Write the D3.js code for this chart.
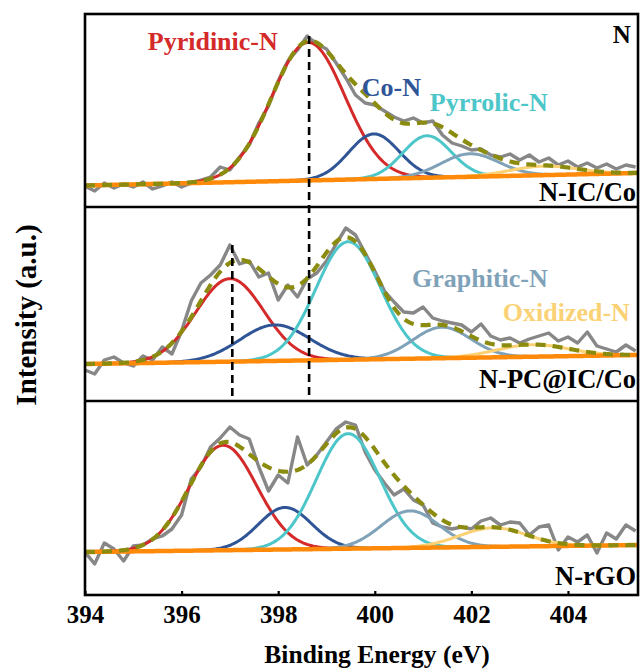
<!DOCTYPE html>
<html><head><meta charset="utf-8">
<script src="https://cdn.jsdelivr.net/npm/d3@7"></script>
<style>
html,body{margin:0;padding:0;background:#fff;}
svg{display:block;font-family:"Times New Roman","Liberation Serif",serif;font-weight:bold;}
</style>
</head><body>
<svg id="chart" width="641" height="671"></svg>
<script>
// ---------------- DATA ----------------
const energies = [394.0,394.2,394.4,394.6,394.8,395.0,395.2,395.4,395.6,395.8,
  396.0,396.2,396.4,396.6,396.8,397.0,397.2,397.4,397.6,397.8,
  398.0,398.2,398.4,398.6,398.8,399.0,399.2,399.4,399.6,399.8,
  400.0,400.2,400.4,400.6,400.8,401.0,401.2,401.4,401.6,401.8,
  402.0,402.2,402.4,402.6,402.8,403.0,403.2,403.4,403.6,403.8,
  404.0,404.2,404.4,404.6,404.8,405.0,405.2,405.4];

const rawNIC = [21,16,24,19,23,20,25,18,21,25,
  20,24,27,30,40,37,50,62,84,101,
  126,146,157,171,163,158,144,129,112,104,
  102,96,90,86,89,84,86,72,64,61,
  57,58,52,50,53,47,52,45,49,42,
  46,40,44,39,43,38,42,40];

const rawNPC = [31,27,41,44,38,35,45,41,54,47,
  70,100,118,126,136,156,137,140,124,128,
  101,116,104,122,128,140,157,173,166,148,
  130,110,99,89,88,94,83,80,78,76,
  69,77,65,61,63,58,62,65,68,60,
  64,58,69,55,52,49,56,50];

const rawNrGO = [43,31,52,46,34,49,50,56,59,66,
  80,116,128,148,157,168,160,156,128,104,
  120,112,158,130,140,153,166,173,170,143,
  125,112,100,106,95,90,72,68,66,68,
  66,74,77,70,73,72,60,68,70,45,
  58,53,60,42,62,56,70,64];

const sampleNames = ["N-IC/Co", "N-PC@IC/Co", "N-rGO"];
const componentNames = ["Pyridinic-N", "Co-N", "Pyrrolic-N", "Graphitic-N", "Oxidized-N"];

// fitted peak parameters per sample (center eV, height a.u., sigma eV)
const peakCenters = [
  [398.62, 399.98, 401.08, 401.97, 403.5],
  [397.00, 397.93, 399.45, 401.39, 403.27],
  [396.86, 398.14, 399.45, 400.73, 402.45]];
const peakHeights = [
  [138, 45, 42, 23, 9],
  [83, 36, 118, 31, 12],
  [105, 42, 115, 37, 19]];
const peakSigmas = [
  [0.76, 0.52, 0.50, 0.60, 0.70],
  [0.70, 0.72, 0.67, 0.60, 0.75],
  [0.70, 0.55, 0.66, 0.60, 0.70]];

// linear background (value at 394 eV and at 405.45 eV)
const backgroundStart = [21.5, 37, 43];
const backgroundEnd = [34, 46, 50];

const xTicks = [394, 396, 398, 400, 402, 404];
const markerEnergies = [398.64, 397.05];
const markerPanels = [0, 1];

// ---------------- STYLE / LAYOUT ----------------
const componentColors = ["#d42a2a", "#2f5597", "#4cc6c9", "#7fa2b9", "#fad275"];
const rawColor = "#878787", envColor = "#8b8b10", bgColor = "#ff8a0a";
const left = 85, right = 638;
const panelBottoms = [207, 401, 595];
const panelTop0 = 14;
const panelSpan = 194;
const xDomain = [394, 405.45];

const svg = d3.select("#chart");
svg.append("rect").attr("width", 641).attr("height", 671).attr("fill", "#fff");

const x = d3.scaleLinear().domain(xDomain).range([left, right]);
const yScales = panelBottoms.map(b => d3.scaleLinear().domain([0, panelSpan]).range([b, b - panelSpan]));
const raws = [rawNIC, rawNPC, rawNrGO];

const defs = svg.append("defs");
panelBottoms.forEach((b, i) => {
  const top = i === 0 ? panelTop0 : panelBottoms[i - 1];
  defs.append("clipPath").attr("id", "clip" + i)
    .append("rect").attr("x", left).attr("y", top).attr("width", right - left).attr("height", b - top);
});

const fine = d3.range(xDomain[0], xDomain[1] + 0.0001, 0.025);

panelBottoms.forEach((b, i) => {
  const y = yScales[i];
  const g = svg.append("g").attr("clip-path", `url(#clip${i})`);
  const bg = e => backgroundStart[i] + (backgroundEnd[i] - backgroundStart[i]) * (e - xDomain[0]) / (xDomain[1] - xDomain[0]);
  const gauss = (k, e) => peakHeights[i][k] * Math.exp(-((e - peakCenters[i][k]) ** 2) / (2 * peakSigmas[i][k] ** 2));
  const line = d3.line().x(d => x(d[0])).y(d => y(d[1])).curve(d3.curveLinear);

  // raw data
  g.append("path").datum(energies.map((e, j) => [e, raws[i][j]]))
    .attr("d", line).attr("fill", "none").attr("stroke", rawColor)
    .attr("stroke-width", 3.4).attr("stroke-linejoin", "round");

  // components
  componentNames.forEach((name, k) => {
    g.append("path").datum(fine.map(e => [e, bg(e) + gauss(k, e)]))
      .attr("d", line).attr("fill", "none").attr("stroke", componentColors[k])
      .attr("stroke-width", 3);
  });

  // background
  g.append("path").datum(fine.map(e => [e, bg(e)]))
    .attr("d", line).attr("fill", "none").attr("stroke", bgColor).attr("stroke-width", 4.5);

  // envelope
  g.append("path").datum(fine.map(e => [e, bg(e) + d3.sum(componentNames, (n, k) => gauss(k, e))]))
    .attr("d", line).attr("fill", "none").attr("stroke", envColor)
    .attr("stroke-width", 4.2).attr("stroke-dasharray", "10,7");
});

// marker dashed lines
markerEnergies.forEach((e, m) => {
  const p = markerPanels[m];
  const j = d3.minIndex(energies, v => Math.abs(v - e));
  svg.append("line")
    .attr("x1", x(e)).attr("x2", x(e))
    .attr("y1", yScales[p](raws[p][j])).attr("y2", yScales[1](0))
    .attr("stroke", "#000").attr("stroke-width", 2.6).attr("stroke-dasharray", "8,5");
});

// frame & dividers
svg.append("rect").attr("x", left).attr("y", panelTop0).attr("width", right - left)
  .attr("height", panelBottoms[2] - panelTop0).attr("fill", "none").attr("stroke", "#000").attr("stroke-width", 2.6);
[panelBottoms[0], panelBottoms[1]].forEach(v => {
  svg.append("line").attr("x1", left).attr("x2", right).attr("y1", v).attr("y2", v)
    .attr("stroke", "#000").attr("stroke-width", 2.6);
});

// x axis
const axis = d3.axisBottom(x).tickValues(xTicks).tickFormat(d3.format("d"))
  .tickSizeInner(-4).tickSizeOuter(0).tickPadding(10);
const ax = svg.append("g").attr("transform", `translate(0,${panelBottoms[2]})`).call(axis);
ax.select(".domain").remove();
ax.selectAll(".tick line").attr("stroke", "#000").attr("stroke-width", 2.2);
ax.selectAll(".tick text").attr("fill", "#000").attr("font-size", 25)
  .attr("font-family", '"Times New Roman","Liberation Serif",serif').attr("font-weight", "bold");

// axis titles
svg.append("text").attr("x", 377).attr("y", 663).attr("text-anchor", "middle")
  .attr("font-size", 25.5).attr("fill", "#000").text("Binding Energy (eV)");
svg.append("text").attr("transform", "translate(36,315) rotate(-90)").attr("text-anchor", "middle")
  .attr("font-size", 29).attr("fill", "#000").text("Intensity (a.u.)");

// component labels (layout positions in data coordinates)
const labelLayout = [
  {k: 0, panel: 0, e: 395.3, v: 157},
  {k: 1, panel: 0, e: 399.73, v: 111},
  {k: 2, panel: 0, e: 401.14, v: 96},
  {k: 3, panel: 1, e: 400.77, v: 114},
  {k: 4, panel: 1, e: 402.65, v: 80}];
labelLayout.forEach(l => {
  svg.append("text").attr("x", x(l.e)).attr("y", yScales[l.panel](l.v))
    .attr("font-size", 26).attr("fill", componentColors[l.k]).text(componentNames[l.k]);
});

// sample labels
const sampleLayout = [6, 13, 10];
sampleNames.forEach((s, i) => {
  svg.append("text").attr("x", x(405.41)).attr("y", yScales[i](sampleLayout[i]))
    .attr("text-anchor", "end").attr("font-size", 26.5).attr("fill", "#000").text(s);
});
svg.append("text").attr("x", x(405.3)).attr("y", yScales[0](164))
  .attr("text-anchor", "end").attr("font-size", 25).attr("fill", "#000").text("N");
</script>
</body></html>
